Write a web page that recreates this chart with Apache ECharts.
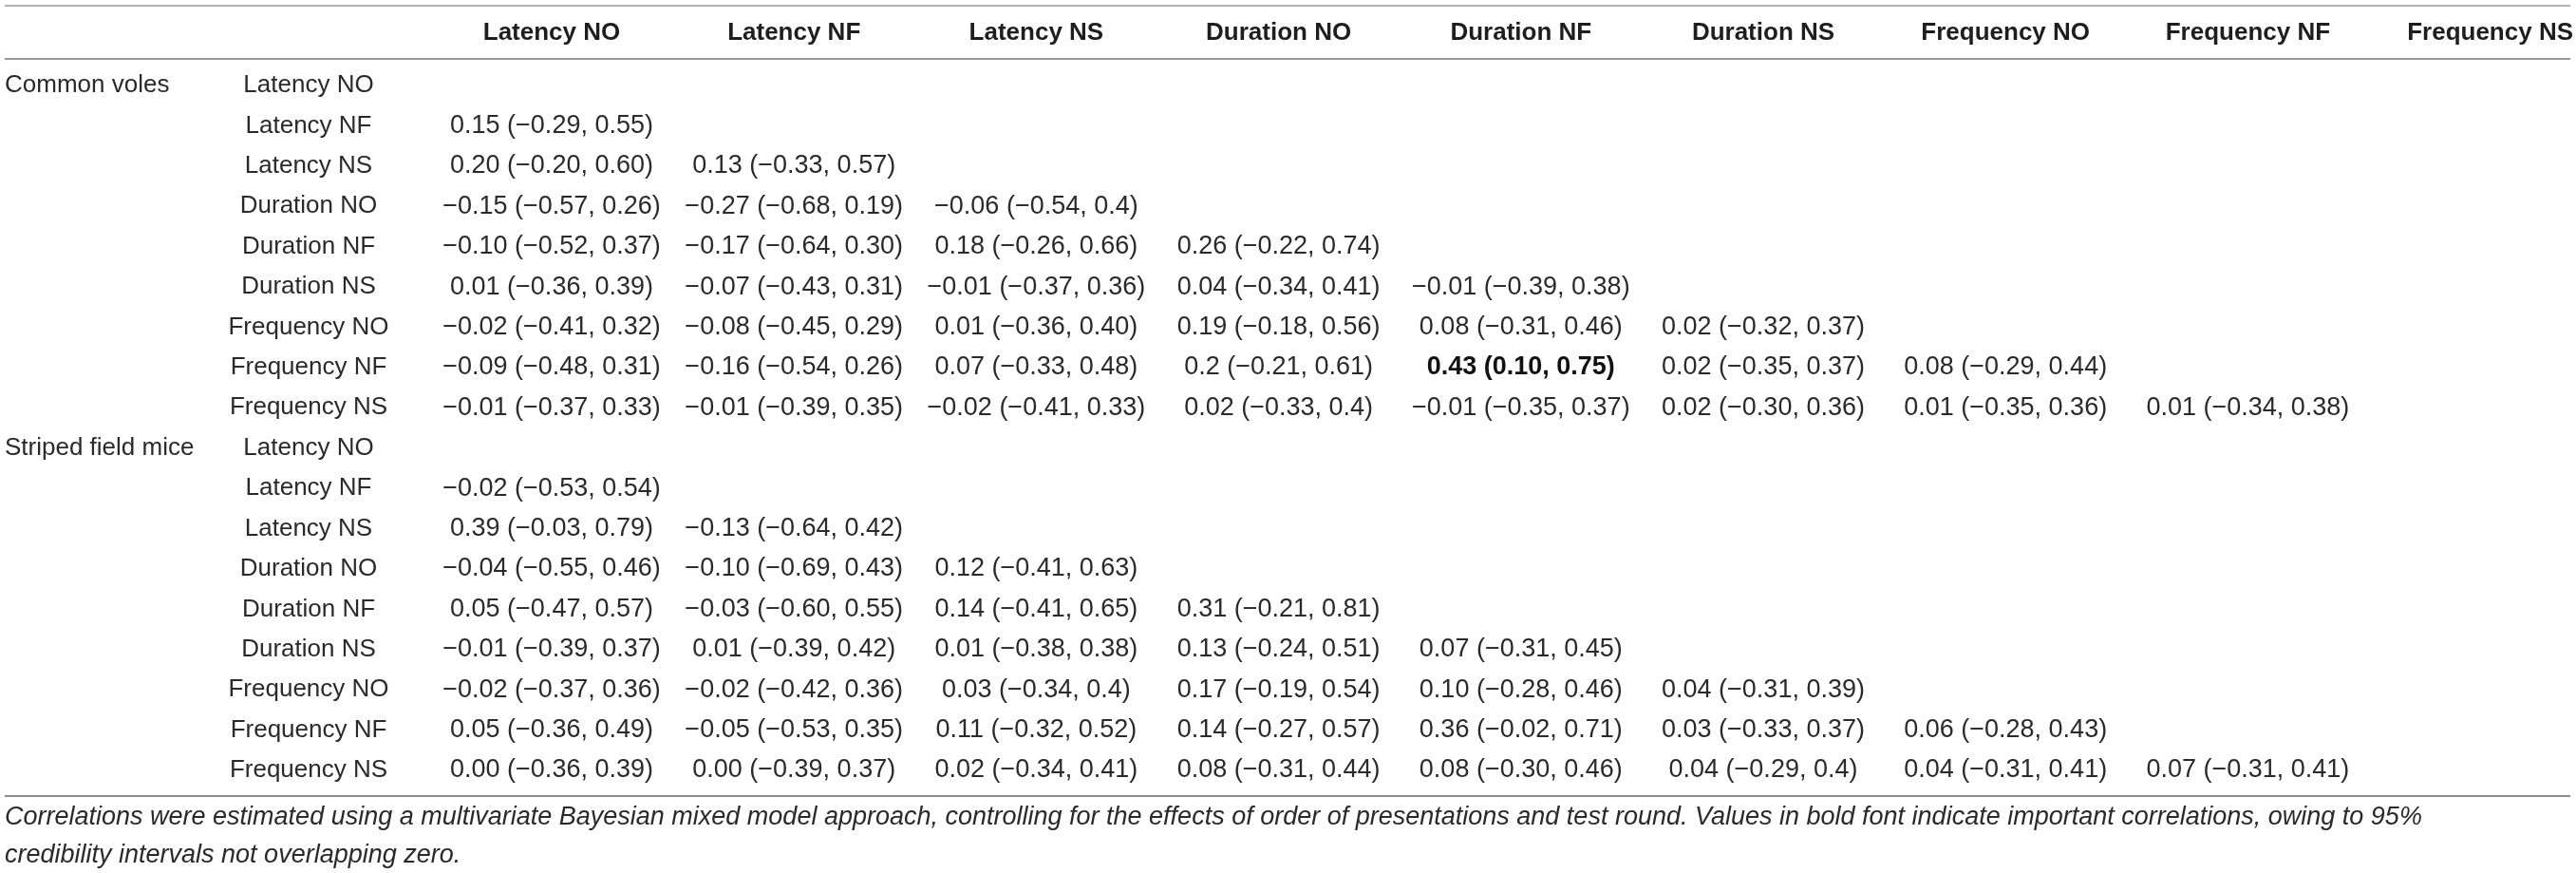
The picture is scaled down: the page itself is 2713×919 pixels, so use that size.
<!DOCTYPE html>
<html>
<head>
<meta charset="utf-8">
<title>Correlation table</title>
<script src="https://cdn.jsdelivr.net/npm/echarts@6/dist/echarts.min.js"></script>
<style>
  html, body { margin: 0; padding: 0; background: #fff; }
  #chart { width: 2713px; height: 919px; }
</style>
</head>
<body>
<div id="chart"></div>
<script>
// column headers and row labels (same nine measures)
var measures = ['Latency NO', 'Latency NF', 'Latency NS', 'Duration NO', 'Duration NF',
  'Duration NS', 'Frequency NO', 'Frequency NF', 'Frequency NS'];
var groups = ['Common voles', 'Striped field mice'];

// lower triangle, one array per row
var volesValues = [
  [],
  ['0.15 (−0.29, 0.55)'],
  ['0.20 (−0.20, 0.60)', '0.13 (−0.33, 0.57)'],
  ['−0.15 (−0.57, 0.26)', '−0.27 (−0.68, 0.19)', '−0.06 (−0.54, 0.4)'],
  ['−0.10 (−0.52, 0.37)', '−0.17 (−0.64, 0.30)', '0.18 (−0.26, 0.66)', '0.26 (−0.22, 0.74)'],
  ['0.01 (−0.36, 0.39)', '−0.07 (−0.43, 0.31)', '−0.01 (−0.37, 0.36)', '0.04 (−0.34, 0.41)', '−0.01 (−0.39, 0.38)'],
  ['−0.02 (−0.41, 0.32)', '−0.08 (−0.45, 0.29)', '0.01 (−0.36, 0.40)', '0.19 (−0.18, 0.56)', '0.08 (−0.31, 0.46)', '0.02 (−0.32, 0.37)'],
  ['−0.09 (−0.48, 0.31)', '−0.16 (−0.54, 0.26)', '0.07 (−0.33, 0.48)', '0.2 (−0.21, 0.61)', '0.43 (0.10, 0.75)', '0.02 (−0.35, 0.37)', '0.08 (−0.29, 0.44)'],
  ['−0.01 (−0.37, 0.33)', '−0.01 (−0.39, 0.35)', '−0.02 (−0.41, 0.33)', '0.02 (−0.33, 0.4)', '−0.01 (−0.35, 0.37)', '0.02 (−0.30, 0.36)', '0.01 (−0.35, 0.36)', '0.01 (−0.34, 0.38)']
];

var miceValues = [
  [],
  ['−0.02 (−0.53, 0.54)'],
  ['0.39 (−0.03, 0.79)', '−0.13 (−0.64, 0.42)'],
  ['−0.04 (−0.55, 0.46)', '−0.10 (−0.69, 0.43)', '0.12 (−0.41, 0.63)'],
  ['0.05 (−0.47, 0.57)', '−0.03 (−0.60, 0.55)', '0.14 (−0.41, 0.65)', '0.31 (−0.21, 0.81)'],
  ['−0.01 (−0.39, 0.37)', '0.01 (−0.39, 0.42)', '0.01 (−0.38, 0.38)', '0.13 (−0.24, 0.51)', '0.07 (−0.31, 0.45)'],
  ['−0.02 (−0.37, 0.36)', '−0.02 (−0.42, 0.36)', '0.03 (−0.34, 0.4)', '0.17 (−0.19, 0.54)', '0.10 (−0.28, 0.46)', '0.04 (−0.31, 0.39)'],
  ['0.05 (−0.36, 0.49)', '−0.05 (−0.53, 0.35)', '0.11 (−0.32, 0.52)', '0.14 (−0.27, 0.57)', '0.36 (−0.02, 0.71)', '0.03 (−0.33, 0.37)', '0.06 (−0.28, 0.43)'],
  ['0.00 (−0.36, 0.39)', '0.00 (−0.39, 0.37)', '0.02 (−0.34, 0.41)', '0.08 (−0.31, 0.44)', '0.08 (−0.30, 0.46)', '0.04 (−0.29, 0.4)', '0.04 (−0.31, 0.41)', '0.07 (−0.31, 0.41)']
];

// cells in bold: [group, row measure, column measure]
var boldCells = [['Common voles', 'Frequency NF', 'Duration NF']];

var footnote = 'Correlations were estimated using a multivariate Bayesian mixed model approach, controlling for the effects of order of presentations and test round. Values in bold font indicate important correlations, owing to 95%\ncredibility intervals not overlapping zero.';

var FONT = '"Liberation Sans", Arial, Helvetica, sans-serif';
var TEXT = '#2a2a2a';

// y categories: one per group/measure pair
var rowKeys = [];
groups.forEach(function (g) {
  measures.forEach(function (m) { rowKeys.push(g + '|' + m); });
});

var cellText = [];
var cellBold = [];
var cellData = [];
[volesValues, miceValues].forEach(function (rows, gi) {
  rows.forEach(function (vals, ri) {
    vals.forEach(function (txt, ci) {
      var isBold = boldCells.some(function (b) {
        return b[0] === groups[gi] && b[1] === measures[ri] && b[2] === measures[ci];
      });
      cellData.push([ci, gi * measures.length + ri]);
      cellText.push(txt);
      cellBold.push(isBold);
    });
  });
});

var myChart = echarts.init(document.getElementById('chart'));

var option = {
  animation: false,
  backgroundColor: '#fff',
  title: {
    text: footnote,
    left: 5,
    top: 840,
    padding: 0,
    textStyle: {
      fontFamily: FONT,
      fontSize: 27,
      fontStyle: 'italic',
      fontWeight: 'normal',
      color: TEXT,
      lineHeight: 40
    }
  },
  grid: { left: 581, right: 88, top: 90, bottom: 108 },
  xAxis: {
    type: 'category',
    position: 'top',
    data: measures,
    boundaryGap: false,
    axisLine: { show: false },
    axisTick: { show: false },
    splitLine: { show: false },
    axisLabel: {
      interval: 0,
      margin: 55,
      verticalAlign: 'middle',
      fontFamily: FONT,
      fontSize: 26,
      fontWeight: 'bold',
      color: '#1e1e1e'
    }
  },
  yAxis: [{
    type: 'category',
    data: rowKeys,
    inverse: true,
    boundaryGap: false,
    axisLine: { show: false },
    axisTick: { show: false },
    splitLine: { show: false },
    axisLabel: {
      interval: 0,
      margin: 256,
      align: 'center',
      fontFamily: FONT,
      fontSize: 26,
      color: TEXT,
      formatter: function (v) { return v.split('|')[1]; }
    }
  }, {
    type: 'category',
    data: rowKeys,
    inverse: true,
    position: 'left',
    boundaryGap: false,
    axisLine: { show: false },
    axisTick: { show: false },
    splitLine: { show: false },
    axisLabel: {
      interval: 0,
      margin: 576,
      align: 'left',
      fontFamily: FONT,
      fontSize: 26,
      color: TEXT,
      formatter: function (v, i) {
        return i % measures.length === 0 ? v.split('|')[0] : '';
      }
    }
  }],
  graphic: [
    { type: 'line', shape: { x1: 5, y1: 6, x2: 2707, y2: 6 }, style: { stroke: '#b0b0b0', lineWidth: 2 } },
    { type: 'line', shape: { x1: 5, y1: 62, x2: 2707, y2: 62 }, style: { stroke: '#999', lineWidth: 2 } },
    { type: 'line', shape: { x1: 5, y1: 838, x2: 2707, y2: 838 }, style: { stroke: '#8c8c8c', lineWidth: 2 } }
  ],
  series: [{
    type: 'custom',
    coordinateSystem: 'cartesian2d',
    data: cellData,
    renderItem: function (params, api) {
      var pt = api.coord([api.value(0), api.value(1)]);
      var bold = cellBold[params.dataIndex];
      return {
        type: 'text',
        x: pt[0],
        y: pt[1],
        style: {
          text: cellText[params.dataIndex],
          align: 'center',
          verticalAlign: 'middle',
          font: (bold ? 'bold ' : '') + '27px ' + FONT,
          fill: bold ? '#111' : TEXT
        }
      };
    }
  }]
};

myChart.setOption(option);
</script>
</body>
</html>
